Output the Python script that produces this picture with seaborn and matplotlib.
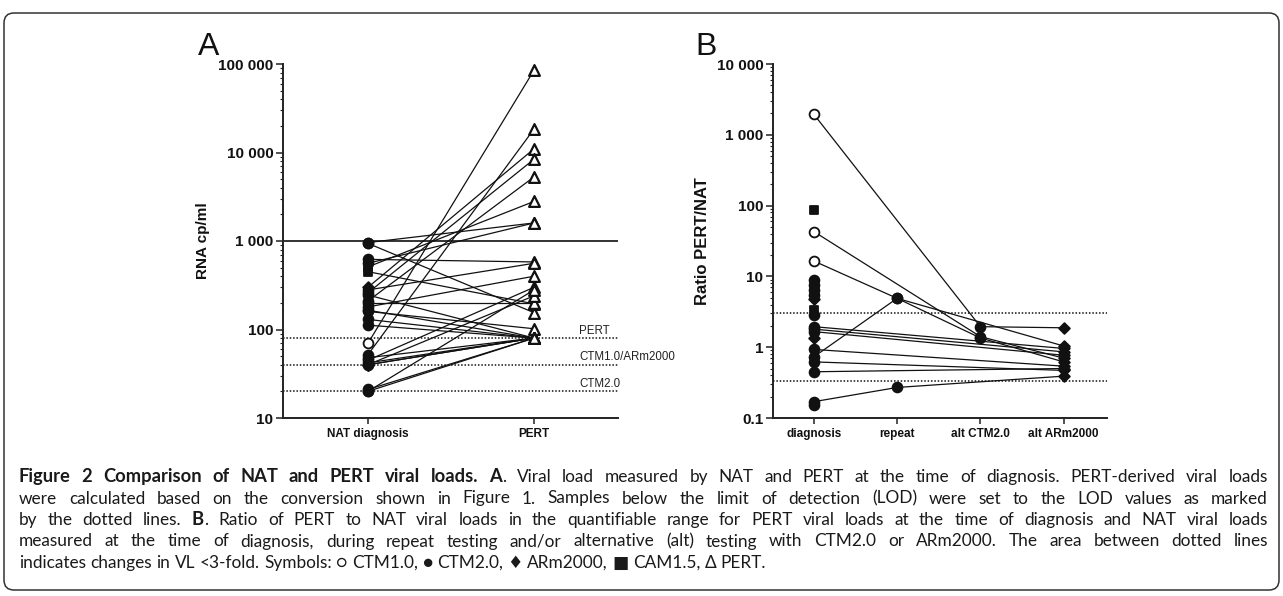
import matplotlib

matplotlib.use("Agg")

import matplotlib.pyplot as plt  # noqa: E402
import numpy as np  # noqa: E402
import pandas as pd  # noqa: E402
import seaborn as sns  # noqa: E402
from matplotlib.patches import FancyBboxPatch  # noqa: E402
from matplotlib.ticker import FuncFormatter, LogLocator, NullFormatter  # noqa: E402
from matplotlib.transforms import IdentityTransform, blended_transform_factory  # noqa: E402

nan = np.nan

# ---- panel A: NAT at diagnosis paired with PERT (RNA cp/ml)
a_categories = ["NAT diagnosis", "PERT"]
nat_load = [960, 940, 620, 560, 510, 450, 300, 280, 260, 245, 210, 200, 180, 165,
            160, 130, 112, 70, 52, 48, 45, 42, 40, 40, 40, 21, 20, 20]
nat_assay = ["CTM2.0", "CTM2.0", "CTM2.0", "CTM2.0", "CAM1.5", "CAM1.5", "ARm2000",
             "CTM2.0", "CTM2.0", "CTM2.0", "CTM2.0", "CTM2.0", "CTM2.0", "CTM2.0",
             "CTM2.0", "CTM2.0", "CTM2.0", "CTM1.0", "CTM2.0", "CTM2.0", "CTM2.0",
             "CTM2.0", "ARm2000", "ARm2000", "CTM2.0", "CTM2.0", "CTM2.0", "CTM2.0"]
pert_load = [1600, 155, 580, 1600, 2800, 195, 11000, 560, 8400, 80, 5300, 200, 400, 80,
             102, 80, 80, 85000, 18400, 80, 300, 80, 80, 240, 80, 80, 80, 280]
quant_limit = 1000
lod_values = [80, 40, 20]
lod_labels = ["PERT", "CTM1.0/ARm2000", "CTM2.0"]

# ---- panel B: ratio PERT/NAT per patient and NAT test
b_categories = ["diagnosis", "repeat", "alt CTM2.0", "alt ARm2000"]
ratio_diagnosis = [1950, 43, 16.5, 0.73, 1.95, 1.80, 1.66, 0.93, 0.62, 0.45, 0.17,
                   87, 8.9, 7.6, 6.4, 5.5, 4.75, 3.35, 2.85, 1.36, 0.155]
diagnosis_assay = ["CTM1.0", "CTM1.0", "CTM1.0", "CTM2.0", "CTM2.0", "CTM2.0", "CTM2.0",
                   "CTM2.0", "CTM2.0", "CTM2.0", "CTM2.0", "CAM1.5", "CTM2.0", "CTM2.0",
                   "CTM2.0", "CTM2.0", "ARm2000", "CAM1.5", "CTM2.0", "ARm2000", "CTM2.0"]
ratio_repeat = [nan, nan, 4.9, 4.9, nan, nan, nan, nan, nan, nan, 0.27,
                nan, nan, nan, nan, nan, nan, nan, nan, nan, nan]
ratio_alt_ctm2 = [1.95, 1.41, 1.35, nan, nan, nan, nan, nan, nan, nan, nan,
                  nan, nan, nan, nan, nan, nan, nan, nan, nan, nan]
ratio_alt_arm = [1.88, 0.70, 0.62, 1.04, 0.96, 0.86, 0.77, 0.54, 0.47, 0.50, 0.39,
                 nan, nan, nan, nan, nan, nan, nan, nan, nan, nan]
fold_limits = [3, 1 / 3]

CAPTION = [
    ("*Figure 2 Comparison of NAT and PERT viral loads. A*. Viral load measured by NAT "
     "and PERT at the time of diagnosis. PERT-derived viral loads", True),
    ("were calculated based on the conversion shown in Figure 1. Samples below the limit "
     "of detection (LOD) were set to the LOD values as marked", True),
    ("by the dotted lines. *B*. Ratio of PERT to NAT viral loads in the quantifiable range "
     "for PERT viral loads at the time of diagnosis and NAT viral loads", True),
    ("measured at the time of diagnosis, during repeat testing and/or alternative (alt) "
     "testing with CTM2.0 or ARm2000. The area between dotted lines", True),
    ("indicates changes in VL <3-fold. Symbols: \u25cb CTM1.0, \u25cf CTM2.0, \u2666 ARm2000, "
     "\u25a0 CAM1.5, \u0394 PERT.", False),
]

INK = "#111111"
MARKERS = {
    "CTM1.0": dict(marker="o", color="white", s=50),
    "CTM2.0": dict(marker="o", color=INK, s=50),
    "ARm2000": dict(marker="D", color=INK, s=30),
    "CAM1.5": dict(marker="s", color=INK, s=40),
}

sns.set_theme(style="ticks")
plt.rcParams["font.family"] = ["Liberation Sans", "DejaVu Sans"]

W_PX, H_PX = 1283, 596
fig = plt.figure(figsize=(W_PX / 100, H_PX / 100), dpi=100)


def px_axes(left, top, right, bottom):
    return fig.add_axes([left / W_PX, 1 - bottom / H_PX,
                         (right - left) / W_PX, (bottom - top) / H_PX])


def fmt_tick(v, _pos):
    if v >= 1:
        return f"{v:,.0f}".replace(",", " ")
    return f"{v:g}"


def style_axis(ax, lo, hi, categories, xlim):
    ax.set_yscale("log")
    ax.set_ylim(lo, hi)
    ax.set_xlim(*xlim)
    ax.yaxis.set_major_locator(LogLocator(base=10, numticks=12))
    ax.yaxis.set_minor_locator(LogLocator(base=10, subs=np.arange(2, 10), numticks=120))
    ax.yaxis.set_minor_formatter(NullFormatter())
    ax.yaxis.set_major_formatter(FuncFormatter(fmt_tick))
    ax.set_xticks(range(len(categories)), categories)
    ax.set_xlabel("")
    sns.despine(ax=ax)
    for side in ("left", "bottom"):
        ax.spines[side].set_linewidth(1.4)
        ax.spines[side].set_color("#222222")
    ax.tick_params(axis="y", which="major", length=5, width=1.1, pad=2,
                   labelsize=11, color="#222222")
    ax.tick_params(axis="y", which="minor", length=2.5, width=0.8, color="#222222")
    ax.tick_params(axis="x", length=4, width=1.1, pad=3, labelsize=8.5, color="#222222")
    for lab in ax.get_xticklabels() + ax.get_yticklabels():
        lab.set_fontweight("bold")
        lab.set_color(INK)


def scatter_assays(ax, df, pos_col, val_col, assay_col):
    for assay, style in MARKERS.items():
        sub = df[df[assay_col] == assay]
        if sub.empty:
            continue
        sns.scatterplot(data=sub, x=pos_col, y=val_col, marker=style["marker"],
                        color=style["color"], s=style["s"], edgecolor=INK,
                        linewidth=1.3, ax=ax, zorder=4, legend=False)


# ---------------- panel A
ax_a = px_axes(283, 64, 618, 418)
n_a = len(nat_load)
df_a = pd.DataFrame({
    "pair": list(range(n_a)) * 2,
    "pos": [0] * n_a + [1] * n_a,
    "load": nat_load + pert_load,
    "assay": nat_assay + ["PERT"] * n_a,
})
ax_a.set_yscale("log")
sns.lineplot(data=df_a, x="pos", y="load", units="pair", estimator=None,
             color=INK, lw=0.9, ax=ax_a, legend=False, zorder=2)
ax_a.axhline(quant_limit, color=INK, lw=1.2, zorder=1)
label_tf = blended_transform_factory(ax_a.transAxes, ax_a.transData)
for v, lab in zip(lod_values, lod_labels):
    ax_a.axhline(v, color=INK, lw=1.1, ls=(0, (1, 1.2)), zorder=1)
    ax_a.text(0.884, v * 1.04, lab, transform=label_tf, fontsize=8.3,
              color="#222222", ha="left", va="bottom")
scatter_assays(ax_a, df_a[df_a["pos"] == 0], "pos", "load", "assay")
sns.scatterplot(data=df_a[df_a["pos"] == 1], x="pos", y="load", marker="^",
                color="white", s=60, edgecolor=INK, linewidth=1.6, ax=ax_a,
                zorder=4, legend=False)
style_axis(ax_a, 10, 100000, a_categories, (-0.512, 1.506))
ax_a.set_ylabel("RNA cp/ml", fontsize=11, fontweight="bold", color=INK)
ax_a.yaxis.set_label_coords(-0.218, 0.5)

# ---------------- panel B
ax_b = px_axes(773, 64, 1107, 418)
series_b = [ratio_diagnosis, ratio_repeat, ratio_alt_ctm2, ratio_alt_arm]
n_b = len(ratio_diagnosis)
df_b = pd.DataFrame({
    "patient": list(range(n_b)) * 4,
    "pos": [p for p in range(4) for _ in range(n_b)],
    "ratio": [v for s in series_b for v in s],
    "assay": diagnosis_assay + ["CTM2.0"] * n_b * 2 + ["ARm2000"] * n_b,
}).dropna(subset=["ratio"])
ax_b.set_yscale("log")
sns.lineplot(data=df_b, x="pos", y="ratio", units="patient", estimator=None,
             color=INK, lw=0.9, ax=ax_b, legend=False, zorder=2)
for v in fold_limits:
    ax_b.axhline(v, color=INK, lw=1.1, ls=(0, (1, 1.2)), zorder=1)
scatter_assays(ax_b, df_b, "pos", "ratio", "assay")
style_axis(ax_b, 0.1, 10000, b_categories, (-0.49, 3.52))
ax_b.set_ylabel("Ratio PERT/NAT", fontsize=12, fontweight="bold", color=INK)
ax_b.yaxis.set_label_coords(-0.19, 0.5)

# panel letters
for letter, x in (("A", 198), ("B", 695)):
    fig.text(x / W_PX, 1 - 55 / H_PX, letter, fontsize=23, color=INK,
             ha="left", va="baseline")

# frame around the figure
frame = FancyBboxPatch((4, H_PX - 590), 1275, 577,
                       boxstyle="round,pad=0,rounding_size=10",
                       transform=IdentityTransform(), fill=False,
                       edgecolor="#333333", lw=1.1)
fig.add_artist(frame)


def draw_caption(lines, left, right, first_baseline, leading, size, bold_size):
    renderer = fig.canvas.get_renderer()
    family = ["Lato", "DejaVu Sans"]

    def make(s, bold):
        return fig.text(0, 0, s, fontsize=bold_size if bold else size, family=family,
                        color="#1a1a1a", fontweight="bold" if bold else "normal",
                        ha="left", va="baseline")

    p1, p2 = make("n n", False), make("nn", False)
    space = p1.get_window_extent(renderer).width - p2.get_window_extent(renderer).width
    p1.remove()
    p2.remove()

    bold = False
    for i, (line, justify) in enumerate(lines):
        words = []
        for raw in line.split(" "):
            runs = []
            for j, part in enumerate(raw.split("*")):
                if j:
                    bold = not bold
                if part:
                    t = make(part, bold)
                    runs.append((t, t.get_window_extent(renderer).width))
            words.append(runs)
        total = sum(w for runs in words for _, w in runs)
        gap = (right - left - total) / (len(words) - 1) if justify else space
        x = left
        y = 1 - (first_baseline + i * leading) / H_PX
        for runs in words:
            for t, w in runs:
                t.set_position((x / W_PX, y))
                x += w
            x += gap


draw_caption(CAPTION, 19, 1268, 482, 21.5, 12.4, 13.2)

fig.savefig("out.png", dpi=100)
plt.close(fig)
